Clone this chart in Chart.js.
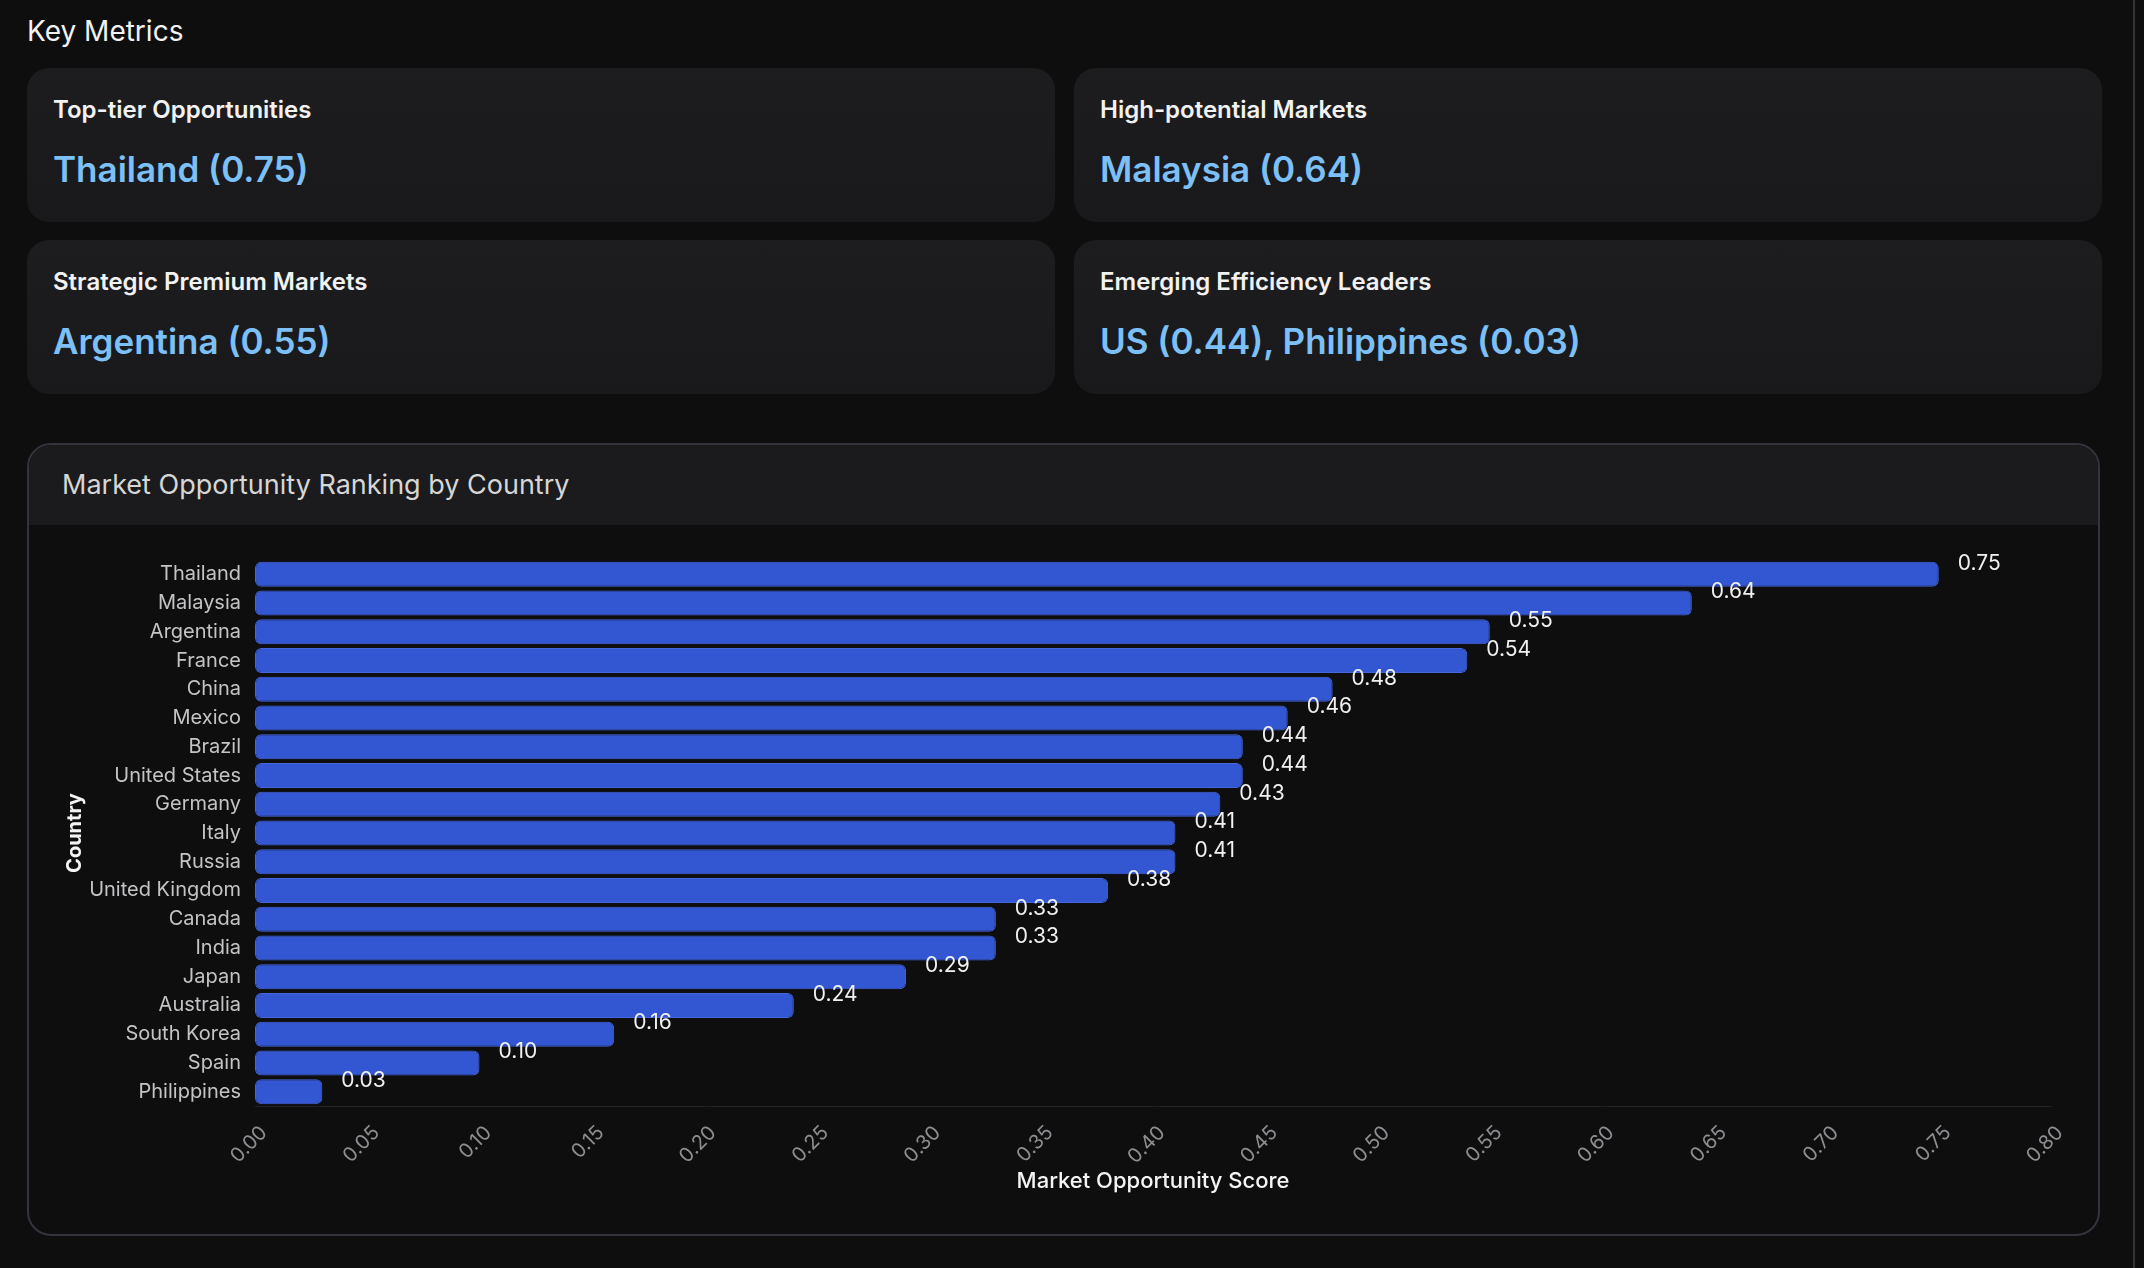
<!DOCTYPE html>
<html>
<head>
<meta charset="utf-8">
<title>Market Opportunity</title>
<script src="https://cdn.jsdelivr.net/npm/chart.js@4.4.0/dist/chart.umd.min.js"></script>
<style>
  body {
    margin: 0;
    background: #0e0e0f;
    font-family: Inter, "Noto Sans", sans-serif;
    color: #f2f2f2;
    width: 2144px;
    height: 1268px;
    overflow: hidden;
    position: relative;
  }
  .heading {
    position: absolute;
    left: 27px;
    top: 14px;
    font-size: 28px;
    line-height: 34px;
    font-weight: 400;
  }
  .metrics {
    position: absolute;
    left: 27px;
    top: 68px;
    display: grid;
    grid-template-columns: 1028px 1028px;
    grid-template-rows: 154px 154px;
    column-gap: 19px;
    row-gap: 18px;
  }
  .card {
    background: linear-gradient(180deg, #1d1d20 0%, #19191b 100%);
    border-radius: 22px;
    padding: 27px 26px 0 26px;
    box-sizing: border-box;
  }
  .card .label {
    font-size: 24px;
    line-height: 30px;
    font-weight: 600;
    color: #f2f2f2;
  }
  .card .value {
    margin-top: 22px;
    font-size: 35px;
    line-height: 44px;
    font-weight: 600;
    color: #7cc0f7;
  }
  .panel {
    position: absolute;
    left: 27px;
    top: 443px;
    width: 2073px;
    height: 793px;
    box-sizing: border-box;
    border: 2px solid #34343c;
    border-radius: 24px;
    background: #0e0e0f;
    overflow: hidden;
  }
  .panel-head {
    height: 80px;
    background: #1b1b1e;
    padding-left: 33px;
    font-size: 27px;
    line-height: 80px;
    color: #d6d6d6;
  }
  .chart-box {
    position: absolute;
    left: 11px;
    top: 89px;
    width: 2043px;
    height: 666px;
  }
  .scrollbar {
    position: absolute;
    left: 2133px;
    top: 0;
    width: 2px;
    height: 1268px;
    background: #34343b;
  }
</style>
</head>
<body>

<div class="heading">Key Metrics</div>

<div class="metrics">
  <div class="card"><div class="label">Top-tier Opportunities</div><div class="value">Thailand (0.75)</div></div>
  <div class="card"><div class="label">High-potential Markets</div><div class="value">Malaysia (0.64)</div></div>
  <div class="card"><div class="label">Strategic Premium Markets</div><div class="value">Argentina (0.55)</div></div>
  <div class="card"><div class="label">Emerging Efficiency Leaders</div><div class="value">US (0.44), Philippines (0.03)</div></div>
</div>

<div class="panel">
  <div class="panel-head">Market Opportunity Ranking by Country</div>
  <div class="chart-box"><canvas id="rankChart"></canvas></div>
</div>

<div class="scrollbar"></div>

<script>
"use strict";

var countries = ['Thailand', 'Malaysia', 'Argentina', 'France', 'China', 'Mexico', 'Brazil',
    'United States', 'Germany', 'Italy', 'Russia', 'United Kingdom', 'Canada', 'India',
    'Japan', 'Australia', 'South Korea', 'Spain', 'Philippines'];
var scores = [0.75, 0.64, 0.55, 0.54, 0.48, 0.46, 0.44, 0.44, 0.43, 0.41, 0.41, 0.38,
    0.33, 0.33, 0.29, 0.24, 0.16, 0.10, 0.03];
var scoreTicks = [0, 0.05, 0.10, 0.15, 0.20, 0.25, 0.30, 0.35, 0.40, 0.45, 0.50, 0.55,
    0.60, 0.65, 0.70, 0.75, 0.80];

// value labels just past the end of each bar
var barValues = {
    id: 'barValues',
    afterDatasetsDraw: function (chart) {
        var ctx = chart.ctx;
        var meta = chart.getDatasetMeta(0);
        ctx.save();
        ctx.font = '21px Inter, "Noto Sans", sans-serif';
        ctx.fillStyle = '#f0f0f0';
        ctx.textAlign = 'left';
        ctx.textBaseline = 'middle';
        meta.data.forEach(function (bar, i) {
            ctx.fillText(scores[i].toFixed(2), bar.x + 19, bar.y - 11);
        });
        ctx.restore();
    }
};

Chart.defaults.font.family = 'Inter, "Noto Sans", sans-serif';

new Chart(document.getElementById('rankChart'), {
    type: 'bar',
    data: {
        labels: countries,
        datasets: [{
            label: 'Market Opportunity Score',
            data: scores,
            backgroundColor: '#3356d2',
            borderColor: '#4566dc',
            borderWidth: 1,
            borderRadius: 6,
            borderSkipped: false,
            categoryPercentage: 1,
            barPercentage: 0.87
        }]
    },
    options: {
        indexAxis: 'y',
        responsive: true,
        maintainAspectRatio: false,
        animation: false,
        layout: {
            padding: { top: 0, right: 29, bottom: 4, left: 19 }
        },
        plugins: {
            legend: { display: false },
            tooltip: { enabled: false }
        },
        scales: {
            x: {
                min: 0,
                max: 0.8,
                afterBuildTicks: function (scale) {
                    scale.ticks = scoreTicks.map(function (v) { return { value: v }; });
                },
                afterFit: function (scale) { scale.height = 90; },
                grid: { display: false, drawTicks: false },
                border: { display: true, color: '#222226', width: 1 },
                ticks: {
                    minRotation: 45,
                    maxRotation: 45,
                    autoSkip: false,
                    padding: 15,
                    labelOffset: 9,
                    color: '#8e8e92',
                    font: { size: 20 },
                    callback: function (v) { return Number(v).toFixed(2); }
                },
                title: {
                    display: true,
                    text: 'Market Opportunity Score',
                    color: '#f4f4f4',
                    padding: { top: 4, bottom: 1 },
                    font: { size: 22, weight: '500' }
                }
            },
            y: {
                afterFit: function (scale) { scale.width = 196; },
                grid: { display: false, drawTicks: false },
                border: { display: false },
                ticks: {
                    padding: 14,
                    color: '#c4c4c6',
                    font: { size: 20 }
                },
                title: {
                    display: true,
                    text: 'Country',
                    color: '#f4f4f4',
                    font: { size: 20, weight: 'bold' }
                }
            }
        }
    },
    plugins: [barValues]
});
</script>
</body>
</html>
